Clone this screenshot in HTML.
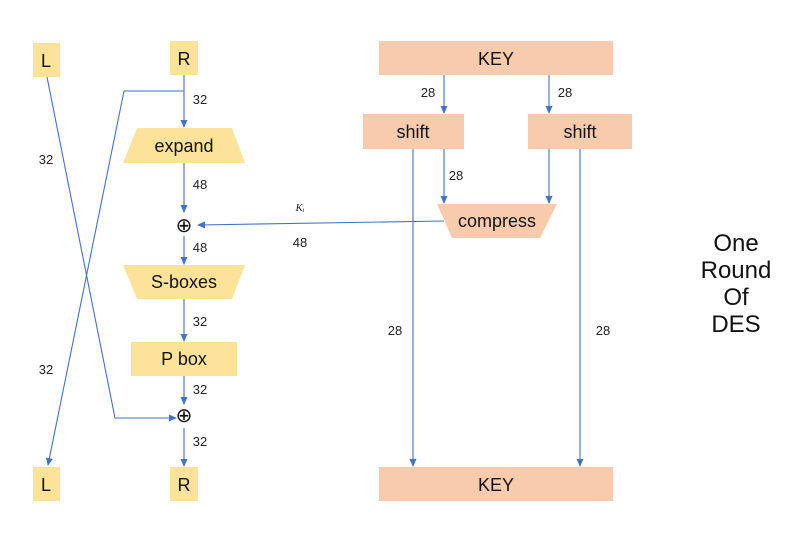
<!DOCTYPE html>
<html><head><style>
body{margin:0;background:#fff;}
svg{display:block;font-family:"Liberation Sans",sans-serif;}
</style></head><body>
<svg width="791" height="548" viewBox="0 0 791 548" xmlns="http://www.w3.org/2000/svg">
<defs><marker id="a" markerWidth="8" markerHeight="8" refX="7" refY="4" orient="auto" markerUnits="userSpaceOnUse"><path d="M0,0.5 L8,4 L0,7.5z" fill="#4472c4"/></marker></defs>
<g fill="#fde39a">
<rect x="33" y="43" width="27" height="34"/>
<rect x="170" y="41" width="28" height="34"/>
<polygon points="137,128 232,128 245,163 123,163"/>
<polygon points="123,265 245,265 232,299 137,299"/>
<rect x="131" y="342" width="106" height="34"/>
<rect x="33" y="467" width="27" height="34"/>
<rect x="170" y="467" width="28" height="34"/>
</g>
<g fill="#f8cbad">
<rect x="379" y="41" width="234" height="34"/>
<rect x="363" y="114" width="101" height="35"/>
<rect x="528" y="114" width="104" height="35"/>
<polygon points="437,204 557,204 540,238 452,238"/>
<rect x="379" y="467" width="234" height="34"/>
</g>
<g stroke="#4472c4" stroke-width="1.1" fill="none">
<line x1="184" y1="75" x2="184" y2="127" marker-end="url(#a)"/>
<polyline points="184,91 124,91 48,465" marker-end="url(#a)"/>
<polyline points="47,77 115,418 176,418" marker-end="url(#a)"/>
<line x1="184" y1="163" x2="184" y2="212" marker-end="url(#a)"/>
<line x1="184" y1="236" x2="184" y2="264" marker-end="url(#a)"/>
<line x1="184" y1="299" x2="184" y2="341" marker-end="url(#a)"/>
<line x1="184" y1="376" x2="184" y2="404" marker-end="url(#a)"/>
<line x1="184" y1="428" x2="184" y2="466" marker-end="url(#a)"/>
<line x1="444" y1="221" x2="198" y2="225" marker-end="url(#a)"/>
<line x1="444" y1="75" x2="444" y2="113" marker-end="url(#a)"/>
<line x1="549" y1="75" x2="549" y2="113" marker-end="url(#a)"/>
<line x1="444" y1="149" x2="444" y2="203" marker-end="url(#a)"/>
<line x1="549" y1="149" x2="549" y2="203" marker-end="url(#a)"/>
<line x1="413" y1="149" x2="413" y2="466" marker-end="url(#a)"/>
<line x1="580" y1="149" x2="580" y2="466" marker-end="url(#a)"/>
</g>
<g font-size="18" fill="#111" text-anchor="middle">
<text x="46" y="67">L</text><text x="184" y="65">R</text>
<text x="184" y="152">expand</text><text x="184" y="288">S-boxes</text>
<text x="184" y="365">P box</text>
<text x="46" y="491">L</text><text x="184" y="491">R</text>
<text x="496" y="65">KEY</text><text x="413" y="138">shift</text><text x="580" y="138">shift</text>
<text x="497" y="227">compress</text><text x="496" y="491">KEY</text>
<text x="184" y="232" font-size="20">⊕</text><text x="184" y="422" font-size="20">⊕</text>
</g>
<g font-size="13" fill="#222" text-anchor="middle">
<text x="200" y="104">32</text><text x="46" y="164">32</text>
<text x="200" y="189">48</text><text x="200" y="252">48</text>
<text x="300" y="247">48</text><text x="300" y="211" font-style="italic" font-size="11" font-family="Liberation Serif,serif">Kᵢ</text>
<text x="200" y="326">32</text><text x="200" y="394">32</text><text x="200" y="446">32</text>
<text x="46" y="374">32</text>
<text x="428" y="97">28</text><text x="565" y="97">28</text><text x="456" y="180">28</text>
<text x="395" y="335">28</text><text x="603" y="335">28</text>
</g>
<g font-size="24" fill="#111" text-anchor="middle">
<text x="736" y="251">One</text><text x="736" y="278">Round</text><text x="736" y="305">Of</text><text x="736" y="332">DES</text>
</g>
</svg>
</body></html>
